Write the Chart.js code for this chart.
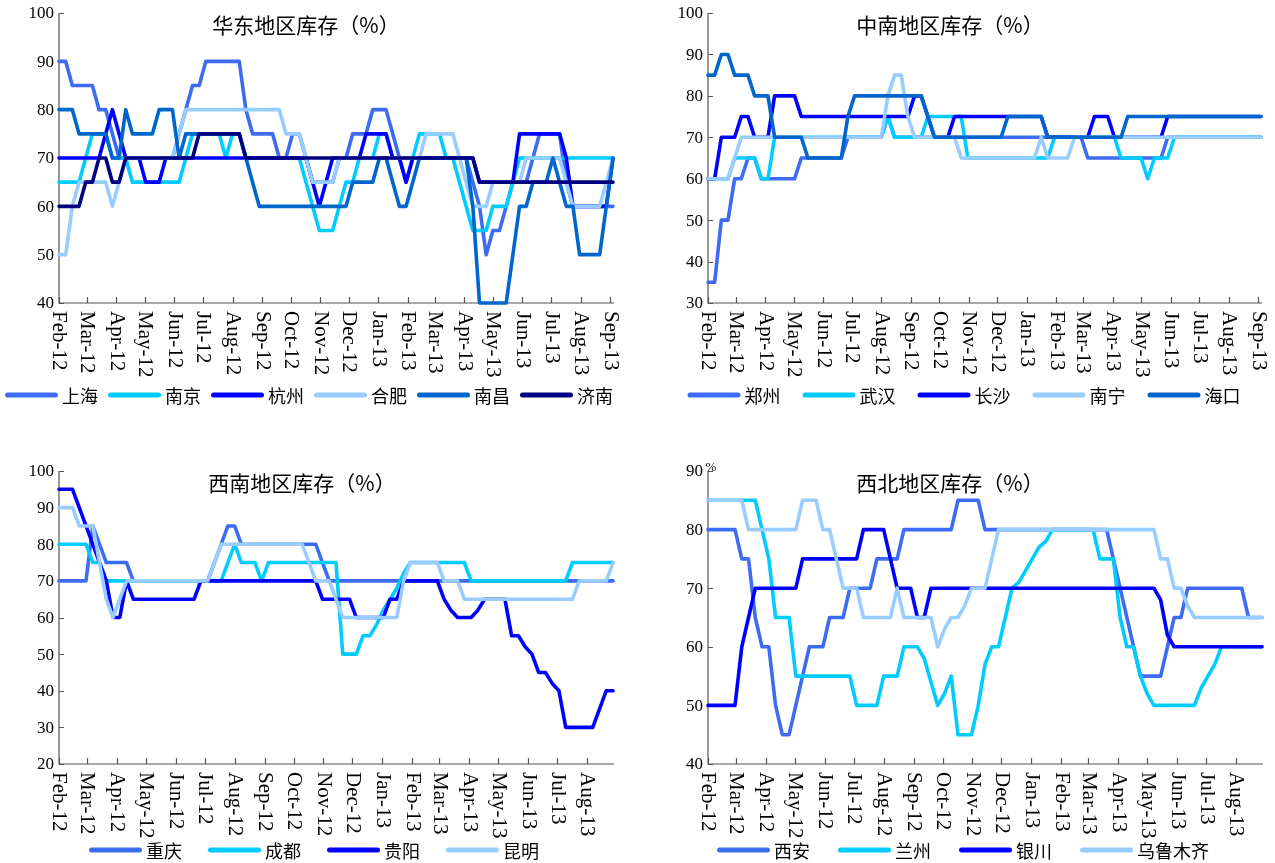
<!DOCTYPE html>
<html lang="zh-CN">
<head>
<meta charset="utf-8">
<title>各地区库存</title>
<script src="https://cdn.jsdelivr.net/npm/chart.js@4.4.1/dist/chart.umd.min.js"></script>
<style>
  html, body { margin: 0; padding: 0; background: #fff; }
  #board { position: relative; width: 1275px; height: 863px; overflow: hidden; background: #fff; }
  #board canvas { position: absolute; }
</style>
</head>
<body>
<div id="board">
  <canvas id="east" width="637" height="431" style="left:0;top:0"></canvas>
  <canvas id="central" width="638" height="431" style="left:637px;top:0"></canvas>
  <canvas id="southwest" width="637" height="432" style="left:0;top:431px"></canvas>
  <canvas id="northwest" width="638" height="432" style="left:637px;top:431px"></canvas>
</div>
<script>
// ---- weekly observation dates ----
const WEEKS = ('2012-02-03 2012-02-10 2012-02-17 2012-02-24 2012-03-02 2012-03-09 2012-03-16 2012-03-23 2012-03-30 ' +
  '2012-04-06 2012-04-13 2012-04-20 2012-04-27 2012-05-04 2012-05-11 2012-05-18 2012-05-25 2012-06-01 2012-06-08 ' +
  '2012-06-15 2012-06-22 2012-06-29 2012-07-06 2012-07-13 2012-07-20 2012-07-27 2012-08-03 2012-08-10 2012-08-17 ' +
  '2012-08-24 2012-08-31 2012-09-07 2012-09-14 2012-09-21 2012-09-28 2012-10-05 2012-10-12 2012-10-19 2012-10-26 ' +
  '2012-11-02 2012-11-09 2012-11-16 2012-11-23 2012-11-30 2012-12-07 2012-12-14 2012-12-21 2012-12-28 2013-01-04 ' +
  '2013-01-11 2013-01-18 2013-01-25 2013-02-01 2013-02-08 2013-02-15 2013-02-22 2013-03-01 2013-03-08 2013-03-15 ' +
  '2013-03-22 2013-03-29 2013-04-05 2013-04-12 2013-04-19 2013-04-26 2013-05-03 2013-05-10 2013-05-17 2013-05-24 ' +
  '2013-05-31 2013-06-07 2013-06-14 2013-06-21 2013-06-28 2013-07-05 2013-07-12 2013-07-19 2013-07-26 2013-08-02 ' +
  '2013-08-09 2013-08-16 2013-08-23 2013-08-30 2013-09-06').split(' ');

// monthly axis ticks and their labels
const TICK_DATES = ['2012-02-03','2012-03-03','2012-04-03','2012-05-03','2012-06-03','2012-07-03','2012-08-03',
  '2012-09-03','2012-10-03','2012-11-03','2012-12-03','2013-01-03','2013-02-03','2013-03-03','2013-04-03',
  '2013-05-03','2013-06-03','2013-07-03','2013-08-03','2013-09-03'];
const MONTH_LABELS = ['Feb-12','Mar-12','Apr-12','May-12','Jun-12','Jul-12','Aug-12','Sep-12','Oct-12','Nov-12',
  'Dec-12','Jan-13','Feb-13','Mar-13','Apr-13','May-13','Jun-13','Jul-13','Aug-13','Sep-13'];

// value-axis ticks
const Y_EAST = [40, 50, 60, 70, 80, 90, 100];
const Y_CENTRAL = [30, 40, 50, 60, 70, 80, 90, 100];
const Y_SOUTHWEST = [20, 30, 40, 50, 60, 70, 80, 90, 100];
const Y_NORTHWEST = [40, 50, 60, 70, 80, 90];

// ---- 华东 ----
const EAST_CITIES = ['上海', '南京', '杭州', '合肥', '南昌', '济南'];
const SHANGHAI = [90,90,85,85,85,85,80,80,75,70, 70,70,70,70,70,70,70,70,75,80,
  85,85,90,90,90,90,90,90,80,75, 75,75,75,70,70,75,75,70,65,65, 65,65,70,70,75,75,75,80,80,80,
  75,70,65,70,70,70,70,70,70,70, 70,70,65,60,50,55,55,60,65,65, 65,70,75,75,75,75,65,60,60,60, 60,60,60,60];
const NANJING = [65,65,65,65,70,75,75,75,70,70, 70,65,65,65,65,65,65,65,65,70,
  75,75,75,75,75,70,75,75,70,70, 70,70,70,70,70,70,70,65,60,55, 55,55,60,65,65,70,70,70,75,75,
  70,70,70,70,75,75,75,75,70,70, 65,60,55,55,55,60,60,60,65,70, 70,70,70,70,70,70,70,70,70,70, 70,70,70,70];
const HANGZHOU = [70,70,70,70,70,70,70,75,80,75, 70,70,70,65,65,65,70,70,70,70,
  70,70,70,70,70,70,70,70,70,70, 70,70,70,70,70,70,70,70,65,60, 65,70,70,70,70,70,75,75,75,75,
  70,70,65,70,70,70,70,70,70,70, 70,70,70,65,65,65,65,65,65,75, 75,75,75,75,75,75,70,60,60,60, 60,60,60,70];
const HEFEI = [50,50,60,65,65,65,65,65,60,65, 70,70,70,70,70,70,70,70,75,80,
  80,80,80,80,80,80,80,80,80,80, 80,80,80,80,75,75,75,70,65,65, 65,65,70,70,70,70,70,70,70,70,
  70,70,70,70,70,75,75,75,75,75, 70,65,60,60,60,65,65,65,65,65, 70,70,70,70,70,70,65,60,60,60, 60,60,65,70];
const NANCHANG = [80,80,80,75,75,75,75,75,70,70, 80,75,75,75,75,80,80,80,70,75,
  75,75,75,75,75,75,75,75,70,65, 60,60,60,60,60,60,60,60,60,60, 60,60,60,60,65,65,65,65,70,70,
  65,60,60,65,70,70,70,70,70,70, 70,70,60,40,40,40,40,40,50,60, 60,65,65,65,70,65,60,60,50,50, 50,50,60,70];
const JINAN = [60,60,60,60,65,65,70,70,65,65, 70,70,70,70,70,70,70,70,70,70,
  70,75,75,75,75,75,75,75,70,70, 70,70,70,70,70,70,70,70,70,70, 70,70,70,70,70,70,70,70,70,70,
  70,70,70,70,70,70,70,70,70,70, 70,70,70,65,65,65,65,65,65,65, 65,65,65,65,65,65,65,65,65,65, 65,65,65,65];

// ---- 中南 ----
const CENTRAL_CITIES = ['郑州', '武汉', '长沙', '南宁', '海口'];
const ZHENGZHOU = [35,35,50,50,60,60,65,65,60,60, 60,60,60,60,65,65,65,65,65,65,
  65,70,70,70,70,70,70,75,70,70, 70,70,70,70,70,70,70,70,70,70, 70,70,70,70,70,70,70,70,70,70,
  70,70,70,70,70,70,70,65,65,65, 65,65,65,65,65,65,65,65,65,70, 70,70,70,70,70,70,70,70,70,70, 70,70,70,70];
const WUHAN = [60,60,60,60,65,65,65,65,60,60, 70,70,70,70,70,70,70,70,70,70,
  70,70,70,70,70,70,70,75,70,70, 70,70,70,75,75,75,75,75,75,65, 65,65,65,65,65,65,65,65,65,65,
  65,65,70,70,70,70,70,70,70,70, 70,70,65,65,65,65,60,65,65,65, 70,70,70,70,70,70,70,70,70,70, 70,70,70,70];
const CHANGSHA = [60,60,70,70,70,75,75,70,70,70, 80,80,80,80,75,75,75,75,75,75,
  75,75,75,75,75,75,75,75,75,75, 75,80,80,75,70,70,70,75,75,75, 75,75,75,75,75,75,75,75,75,75,
  75,70,70,70,70,70,70,70,75,75, 75,70,70,70,70,70,70,70,70,75, 75,75,75,75,75,75,75,75,75,75, 75,75,75,75];
const NANNING = [60,60,60,60,65,70,70,70,70,70, 70,70,70,70,70,70,70,70,70,70,
  70,70,70,70,70,70,70,80,85,85, 75,70,70,70,70,70,70,70,65,65, 65,65,65,65,65,65,65,65,65,65,
  70,65,65,65,65,70,70,70,70,70, 70,70,70,70,70,70,70,70,70,70, 70,70,70,70,70,70,70,70,70,70, 70,70,70,70];
const HAIKOU = [85,85,90,90,85,85,85,80,80,80, 70,70,70,70,70,65,65,65,65,65,
  65,75,80,80,80,80,80,80,80,80, 80,80,80,75,70,70,70,70,70,70, 70,70,70,70,70,75,75,75,75,75,
  75,70,70,70,70,70,70,70,70,70, 70,70,70,75,75,75,75,75,75,75, 75,75,75,75,75,75,75,75,75,75, 75,75,75,75];

// ---- 西南 ----
const SOUTHWEST_CITIES = ['重庆', '成都', '贵阳', '昆明'];
const CHONGQING = [70,70,70,70,70,85,80,75,75,75, 75,70,70,70,70,70,70,70,70,70,
  70,70,70,75,80,85,85,80,80,80, 80,80,80,80,80,80,80,80,80,75, 70,70,70,70,70,70,70,70,70,70,
  70,70,70,70,70,70,70,70,70,70, 70,70,70,70,70,70,70,70,70,70, 70,70,70,70,70,70,70,70,70,70, 70,70,70];
const CHENGDU = [80,80,80,80,80,75,75,70,70,70, 70,70,70,70,70,70,70,70,70,70,
  70,70,70,70,70,75,80,75,75,75, 70,75,75,75,75,75,75,75,75,75, 75,75,50,50,50,55,55,58,62,65,
  68,72,75,75,75,75,75,75,75,75, 75,70,70,70,70,70,70,70,70,70, 70,70,70,70,70,70,75,75,75,75, 75,75,75];
const GUIYANG = [95,95,95,90,85,80,75,70,60,60, 70,65,65,65,65,65,65,65,65,65,
  65,70,70,70,70,70,70,70,70,70, 70,70,70,70,70,70,70,70,70,65, 65,65,65,65,60,60,60,60,60,65,
  65,70,70,70,70,70,70,65,62,60, 60,60,62,65,65,65,65,55,55,52, 50,45,45,42,40,30,30,30,30,30, 35,40,40];
const KUNMING = [90,90,90,85,85,85,75,65,60,65, 70,70,70,70,70,70,70,70,70,70,
  70,70,70,75,80,80,80,80,80,80, 80,80,80,80,80,80,80,75,70,70, 70,65,60,60,60,60,60,60,60,60,
  60,70,75,75,75,75,75,70,70,70, 65,65,65,65,65,65,65,65,65,65, 65,65,65,65,65,65,65,70,70,70, 70,70,75];

// ---- 西北 ----
const NORTHWEST_CITIES = ['西安', '兰州', '银川', '乌鲁木齐'];
const XIAN = [80,80,80,80,80,75,75,65,60,60, 50,45,45,50,55,60,60,60,65,65,
  65,70,70,70,70,75,75,75,75,80, 80,80,80,80,80,80,80,85,85,85, 85,80,80,80,80,80,80,80,80,80,
  80,80,80,80,80,80,80,80,80,80, 75,70,65,60,55,55,55,55,60,65, 65,70,70,70,70,70,70,70,70,70, 65,65,65];
const LANZHOU = [85,85,85,85,85,85,85,85,80,75, 65,65,65,55,55,55,55,55,55,55,
  55,55,50,50,50,50,55,55,55,60, 60,60,58,54,50,52,55,45,45,45, 50,57,60,60,65,70,71,73,75,77,
  78,80,80,80,80,80,80,80,75,75, 75,65,60,60,55,52,50,50,50,50, 50,50,50,53,55,57,60,60,60,60, 60,60,60];
const YINCHUAN = [50,50,50,50,50,60,65,70,70,70, 70,70,70,70,75,75,75,75,75,75,
  75,75,75,80,80,80,80,75,70,70, 70,65,65,70,70,70,70,70,70,70, 70,70,70,70,70,70,70,70,70,70,
  70,70,70,70,70,70,70,70,70,70, 70,70,70,70,70,70,70,68,62,60, 60,60,60,60,60,60,60,60,60,60, 60,60,60];
const URUMQI = [85,85,85,85,85,85,80,80,80,80, 80,80,80,80,85,85,85,80,80,75,
  70,70,70,65,65,65,65,65,70,65, 65,65,65,65,60,63,65,65,67,70, 70,70,75,80,80,80,80,80,80,80,
  80,80,80,80,80,80,80,80,80,80, 80,80,80,80,80,80,80,75,75,70, 70,67,65,65,65,65,65,65,65,65, 65,65,65];

// line colours, in series order
const SERIES_COLORS = ['#3d6cf2', '#00ccff', '#0000ff', '#99ccff', '#0066cc', '#000080'];

// ---- drawing helpers ----
const MS_PER_DAY = 86400000;
const dayOf = s => (Date.parse(s) - Date.parse(WEEKS[0])) / MS_PER_DAY;

const SERIF = '"Liberation Serif", "Times New Roman", serif';
const CJK = '"Noto Sans CJK SC", "Noto Sans SC", sans-serif';

function makeFrame(cfg) {
  return {
    id: 'frame',
    beforeDatasetsDraw(chart) {
      const { ctx, chartArea: a, scales: { x, y } } = chart;
      ctx.save();
      ctx.strokeStyle = '#555';
      ctx.lineWidth = 1.2;
      ctx.beginPath();
      ctx.moveTo(a.left, a.top);
      ctx.lineTo(a.left, a.bottom);
      ctx.lineTo(a.right + 1, a.bottom);
      cfg.yTicks.forEach(v => {
        const py = Math.round(y.getPixelForValue(v)) + 0.5;
        ctx.moveTo(a.left, py);
        ctx.lineTo(a.left + 5, py);
      });
      cfg.months.forEach((m, k) => {
        const px = Math.round(x.getPixelForValue(dayOf(TICK_DATES[k]))) + 0.5;
        ctx.moveTo(px, a.bottom);
        ctx.lineTo(px, a.bottom - 6);
      });
      ctx.stroke();
      ctx.restore();
    },
    afterDraw(chart) {
      const { ctx, chartArea: a, scales: { x, y } } = chart;
      ctx.save();
      ctx.fillStyle = '#000';

      // value labels
      ctx.font = '17px ' + SERIF;
      ctx.textAlign = 'right';
      ctx.textBaseline = 'middle';
      cfg.yTicks.forEach(v => ctx.fillText(String(v), a.left - 5, y.getPixelForValue(v) + 1));

      // month labels, turned to read downward
      ctx.font = '21px ' + SERIF;
      ctx.textAlign = 'left';
      cfg.months.forEach((m, k) => {
        const px = x.getPixelForValue(dayOf(TICK_DATES[k]));
        ctx.save();
        ctx.translate(px, a.bottom + 8);
        ctx.rotate(Math.PI / 2);
        ctx.fillText(m, 0, 0);
        ctx.restore();
      });

      // small unit mark at the top of the value axis
      if (cfg.unitMark) {
        ctx.font = '13px ' + SERIF;
        ctx.textAlign = 'center';
        ctx.fillText(cfg.unitMark, a.left + 3, a.top - 3);
      }

      // title
      ctx.font = '21px ' + CJK;
      ctx.textAlign = 'center';
      ctx.textBaseline = 'middle';
      ctx.fillText(cfg.title, cfg.titleX, cfg.titleY);

      // legend
      ctx.font = '18px ' + CJK;
      ctx.textAlign = 'left';
      const LINE = 53, GAP = 4;
      const items = chart.data.datasets.map(ds => ({
        label: ds.label, color: ds.borderColor, w: ctx.measureText(ds.label).width
      }));
      const total = items.reduce((s, it) => s + LINE + GAP + it.w, 0) + cfg.legendGap * (items.length - 1);
      let cx = cfg.legendX - total / 2;
      items.forEach(it => {
        ctx.strokeStyle = it.color;
        ctx.lineWidth = 5;
        ctx.lineCap = 'round';
        ctx.beginPath();
        ctx.moveTo(cx + 2.5, cfg.legendY);
        ctx.lineTo(cx + LINE - 2.5, cfg.legendY);
        ctx.stroke();
        ctx.fillText(it.label, cx + LINE + GAP, cfg.legendY + 1);
        cx += LINE + GAP + it.w + cfg.legendGap;
      });
      ctx.restore();
    }
  };
}

function buildPanel(canvasId, cities, seriesList, count, cfg) {
  const dates = WEEKS.slice(0, count);
  const n = seriesList.length;
  const datasets = seriesList.map((values, k) => ({
    label: cities[k],
    data: values.map((v, i) => ({ x: dayOf(dates[i]), y: v })),
    borderColor: SERIES_COLORS[k],
    backgroundColor: SERIES_COLORS[k],
    borderWidth: 3.6,
    pointRadius: 0,
    tension: 0,
    borderJoinStyle: 'round',
    borderCapStyle: 'round',
    clip: 8,
    order: n - 1 - k
  }));
  return new Chart(document.getElementById(canvasId), {
    type: 'line',
    data: { datasets },
    options: {
      responsive: false,
      animation: false,
      devicePixelRatio: 1,
      events: [],
      layout: { padding: cfg.pad },
      plugins: { legend: { display: false }, tooltip: { enabled: false }, title: { display: false } },
      scales: {
        x: { type: 'linear', display: false, min: 0, max: dayOf(dates[dates.length - 1]) },
        y: { type: 'linear', display: false, min: cfg.yTicks[0], max: cfg.yTicks[cfg.yTicks.length - 1] }
      }
    },
    plugins: [makeFrame(cfg)]
  });
}

buildPanel('east', EAST_CITIES, [SHANGHAI, NANJING, HANGZHOU, HEFEI, NANCHANG, JINAN], 84, {
  title: '华东地区库存（%）', titleX: 306, titleY: 25,
  yTicks: Y_EAST, months: MONTH_LABELS,
  pad: { left: 59, top: 13, right: 24, bottom: 128 },
  legendX: 309, legendY: 395, legendGap: 10
});
buildPanel('central', CENTRAL_CITIES, [ZHENGZHOU, WUHAN, CHANGSHA, NANNING, HAIKOU], 84, {
  title: '中南地区库存（%）', titleX: 313, titleY: 25,
  yTicks: Y_CENTRAL, months: MONTH_LABELS,
  pad: { left: 71, top: 13, right: 14, bottom: 128 },
  legendX: 327, legendY: 395, legendGap: 22
});
buildPanel('southwest', SOUTHWEST_CITIES, [CHONGQING, CHENGDU, GUIYANG, KUNMING], 83, {
  title: '西南地区库存（%）', titleX: 302, titleY: 52,
  yTicks: Y_SOUTHWEST, months: MONTH_LABELS.slice(0, 19),
  pad: { left: 59, top: 40, right: 24, bottom: 99 },
  legendX: 314, legendY: 419, legendGap: 26
});
buildPanel('northwest', NORTHWEST_CITIES, [XIAN, LANZHOU, YINCHUAN, URUMQI], 83, {
  title: '西北地区库存（%）', titleX: 313, titleY: 52,
  yTicks: Y_NORTHWEST, months: MONTH_LABELS.slice(0, 19), unitMark: '%',
  pad: { left: 71, top: 40, right: 13, bottom: 99 },
  legendX: 326, legendY: 419, legendGap: 28
});
</script>
</body>
</html>
